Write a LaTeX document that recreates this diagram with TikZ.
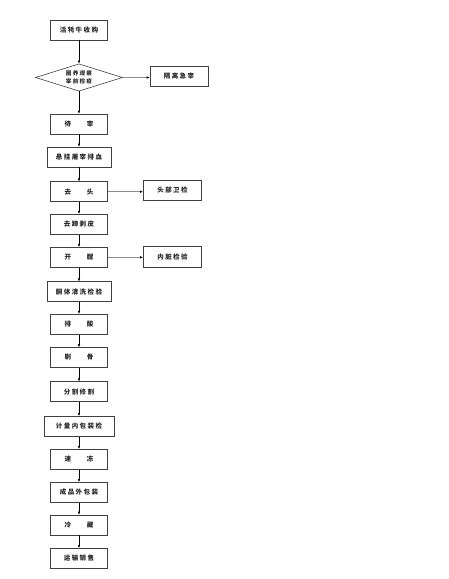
\documentclass[tikz,border=0pt]{standalone}
\usepackage{fontspec}
\newfontfamily\cjk[LetterSpace=22]{Noto Sans CJK SC}
\usetikzlibrary{shapes.geometric,arrows.meta}
\newcommand{\gp}{\hspace{16pt}}
\begin{document}
\begin{tikzpicture}[x=1pt,y=-1pt,
  box/.style={draw=black!75,line width=0.6pt,minimum height=20pt,minimum width=57pt,inner sep=0pt,font=\cjk\bfseries\fontsize{6.5}{7}\selectfont,text=black!85},
  dia/.style={draw=black!75,line width=0.6pt,shape=diamond,aspect=1.93,minimum width=87pt,inner sep=0pt,font=\cjk\bfseries\fontsize{5.6}{8.4}\selectfont,align=center,text=black!85},
  arr/.style={draw=black,line width=0.5pt,-{Latex[length=3pt,width=2.6pt]}},
  sarr/.style={draw=black!45,line width=0.8pt,-{Latex[length=3pt,width=2.6pt,fill=black,color=black]}}]
\useasboundingbox (0,0) rectangle (448,579);
\node[box] (n1) at (79,30) {活牦牛收购};
\node[dia] (d) at (79,77.5) {圈养观察\\宰前检疫};
\node[box,minimum width=58pt,minimum height=20.7pt] (gl) at (179,76.3) {隔离急宰};
\node[box] (n2) at (79,124) {待\gp 宰};
\node[box,minimum width=64pt] (n3) at (79,157) {悬挂屠宰排血};
\node[box] (n4) at (79,191.7) {去\gp 头};
\node[box,minimum width=58.4pt,minimum height=20.7pt] (tb) at (172.5,190.3) {头部卫检};
\node[box] (n5) at (79,224.2) {去蹄剥皮};
\node[box] (n6) at (79,257.3) {开\gp 膛};
\node[box,minimum width=58.4pt,minimum height=20.7pt] (nz) at (172.5,257) {内脏检验};
\node[box,minimum width=64pt] (n7) at (79,291.7) {胴体清洗检验};
\node[box] (n8) at (79,324.2) {排\gp 酸};
\node[box] (n9) at (79,357.5) {剔\gp 骨};
\node[box] (n10) at (79,391.7) {分割修割};
\node[box,minimum width=70pt] (n11) at (79,426.3) {计量内包装检};
\node[box] (n12) at (79,459.3) {速\gp 冻};
\node[box] (n13) at (79,492.3) {成品外包装};
\node[box] (n14) at (79,525) {冷\gp 藏};
\node[box] (n15) at (79,558.3) {运输销售};
\draw[arr] (n1) -- (d);
\draw[arr] (d) -- (n2);
\foreach \a/\b in {n2/n3,n3/n4,n4/n5,n5/n6,n6/n7,n7/n8,n8/n9,n9/n10,n10/n11,n11/n12,n12/n13,n13/n14,n14/n15}
  \draw[arr] (\a) -- (\b);
\draw[sarr] (d.east) -- (d.east -| gl.west);
\draw[sarr] (n4.east) -- (n4.east -| tb.west);
\draw[sarr] (n6.east) -- (n6.east -| nz.west);
\end{tikzpicture}
\end{document}
